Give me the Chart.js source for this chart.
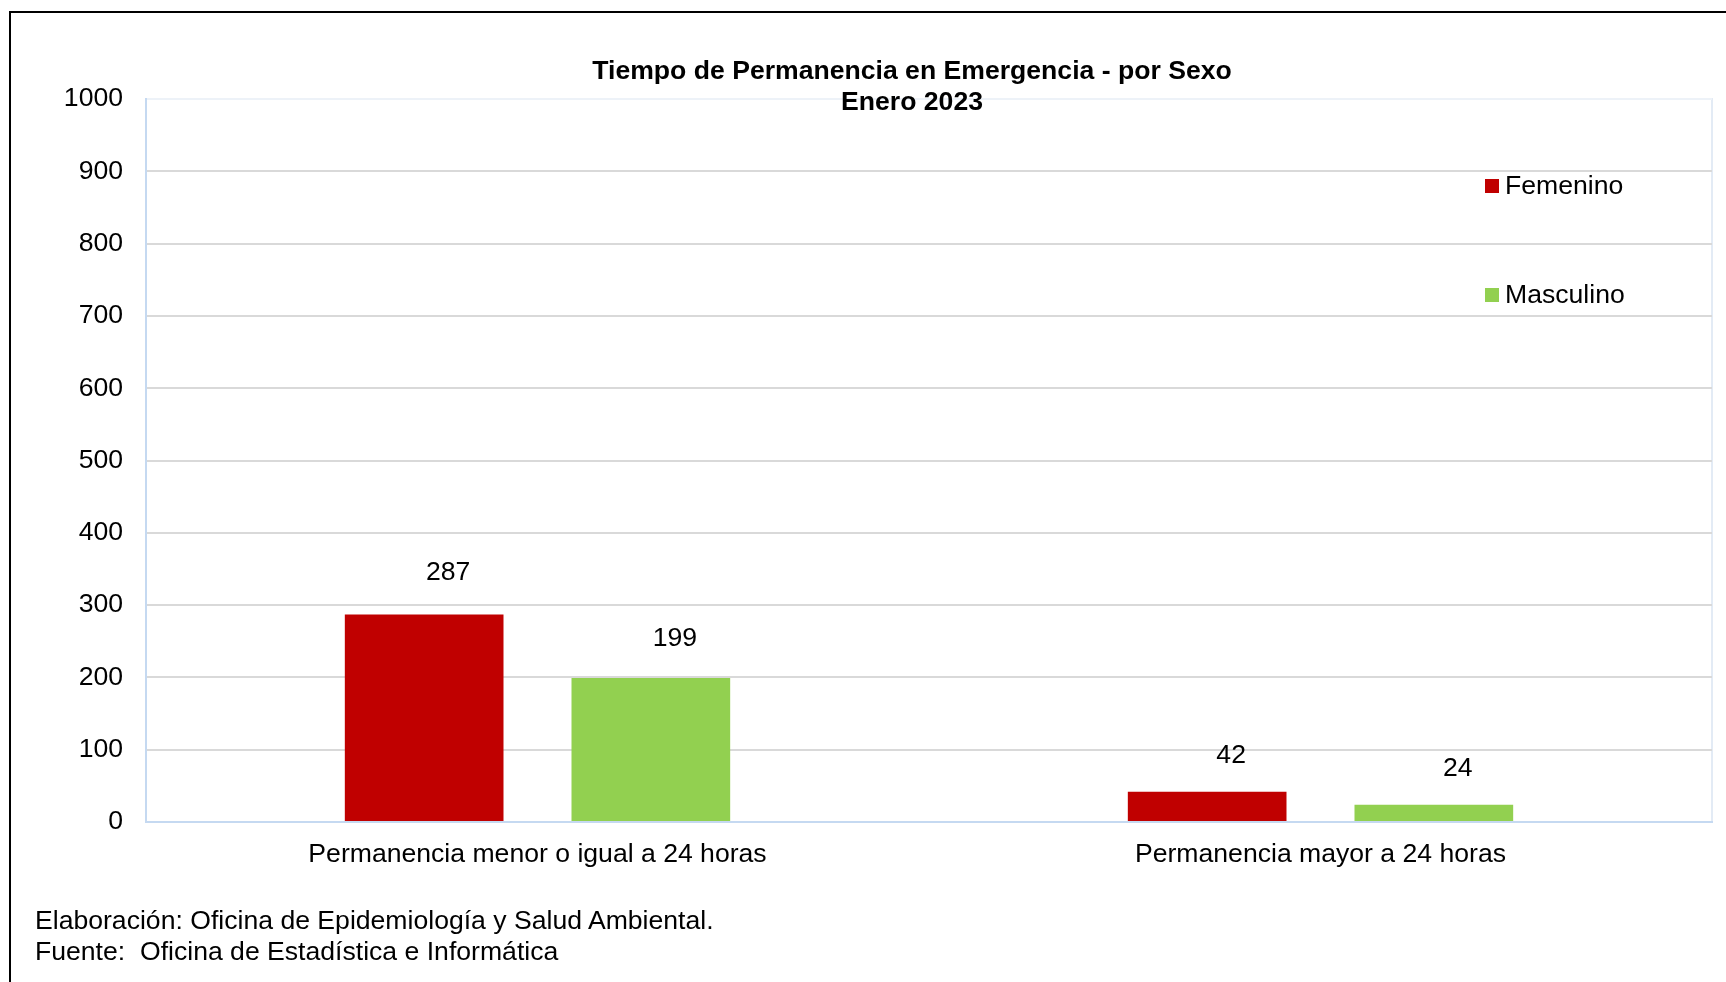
<!DOCTYPE html>
<html>
<head>
<meta charset="utf-8">
<script src="https://cdn.jsdelivr.net/npm/chart.js@4"></script>
<style>
    html, body { margin: 0; padding: 0; background: #fff; overflow: hidden; }
    #wrap { position: relative; width: 1726px; height: 982px; }
    #frame { position: absolute; left: 9px; top: 11px; right: -10px; bottom: -10px; border-left: 2px solid #000; border-top: 2px solid #000; }
    #chart { position: absolute; left: 0; top: 0; }
    .note { position: absolute; left: 35px; font: 26.6px "Liberation Sans", Arial, sans-serif; color: #000; line-height: 31px; white-space: nowrap; }
</style>
</head>
<body>
<div id="wrap">
    <canvas id="chart" width="1726" height="982"></canvas>
    <div id="frame"></div>
    <div class="note" style="top:905px">Elaboración: Oficina de Epidemiología y Salud Ambiental.</div>
    <div class="note" style="top:936px">Fuente:&nbsp; Oficina de Estadística e Informática</div>
</div>
<script>
const categories = ["Permanencia menor o igual a 24 horas", "Permanencia mayor a 24 horas"];
const femenino = [287, 42];
const masculino = [199, 24];
const titleLines = ["Tiempo de Permanencia en Emergencia - por Sexo", "Enero 2023"];
const yTicks = [0, 100, 200, 300, 400, 500, 600, 700, 800, 900, 1000];

const FONT = '"Liberation Sans", Arial, sans-serif';
const SIZE = 26.6;

// frame of the plot area, behind the grid
const plotFrame = {
    id: "plotFrame",
    beforeDraw(chart) {
        const { ctx, chartArea: a } = chart;
        ctx.save();
        ctx.strokeStyle = "#e3ebf5";
        ctx.lineWidth = 2;
        ctx.strokeRect(a.left, a.top, a.right - a.left, a.bottom - a.top);
        ctx.restore();
    },
};

// values above bars, title and legend
const extras = {
    id: "extras",
    afterDatasetsDraw(chart) {
        const { ctx } = chart;
        const base = chart.scales.y.getPixelForValue(0);
        ctx.save();
        ctx.fillStyle = "#000";
        ctx.font = SIZE + "px " + FONT;
        ctx.textAlign = "center";
        ctx.textBaseline = "middle";
        chart.data.datasets.forEach((ds, i) => {
            chart.getDatasetMeta(i).data.forEach((bar, j) => {
                const h = base - bar.y;
                ctx.fillText(ds.data[j], bar.x + 24, bar.y - 35 - h * 0.034);
            });
        });

        ctx.font = "bold " + SIZE + "px " + FONT;
        ctx.fillText(titleLines[0], 912, 72);
        ctx.fillText(titleLines[1], 912, 103);

        ctx.font = SIZE + "px " + FONT;
        ctx.textAlign = "left";
        const rows = [186, 295];
        chart.data.datasets.forEach((ds, i) => {
            ctx.fillStyle = ds.backgroundColor;
            ctx.fillRect(1485, rows[i] - 7, 14, 14);
            ctx.fillStyle = "#000";
            ctx.fillText(ds.label, 1505, rows[i] + 1);
        });
        ctx.restore();
    },
};

new Chart(document.getElementById("chart"), {
    type: "bar",
    data: {
        labels: categories,
        datasets: [
            {
                label: "Femenino",
                data: femenino,
                backgroundColor: "#c00000",
                borderWidth: 0,
            },
            {
                label: "Masculino",
                data: masculino,
                backgroundColor: "#92d050",
                borderWidth: 0,
            },
        ],
    },
    options: {
        responsive: false,
        animation: false,
        categoryPercentage: 0.579,
        barPercentage: 0.7,
        layout: {
            padding: { left: 0, right: 14, top: 99, bottom: 0 },
        },
        plugins: {
            legend: { display: false },
            title: { display: false },
            tooltip: { enabled: false },
        },
        scales: {
            x: {
                afterFit(scale) {
                    scale.height = 160;
                },
                grid: { display: false, drawTicks: false },
                border: { color: "#c5d9f1", width: 2 },
                ticks: {
                    color: "#000",
                    padding: 17,
                    font: { family: FONT, size: SIZE },
                },
            },
            y: {
                min: 0,
                max: 1000,
                afterFit(scale) {
                    scale.width = 146;
                },
                afterBuildTicks(scale) {
                    scale.ticks = yTicks.map((v) => ({ value: v }));
                },
                grid: {
                    drawTicks: false,
                    lineWidth: 2,
                    color: (c) => (c.tick.value === 1000 ? "#edf2f8" : c.tick.value === 0 ? "rgba(0,0,0,0)" : "#d9d9d9"),
                },
                border: { color: "#c5d9f1", width: 2 },
                ticks: {
                    color: "#000",
                    padding: 23,
                    font: { family: FONT, size: SIZE },
                    callback: (v) => String(v),
                },
            },
        },
    },
    plugins: [plotFrame, extras],
});
</script>
</body>
</html>
